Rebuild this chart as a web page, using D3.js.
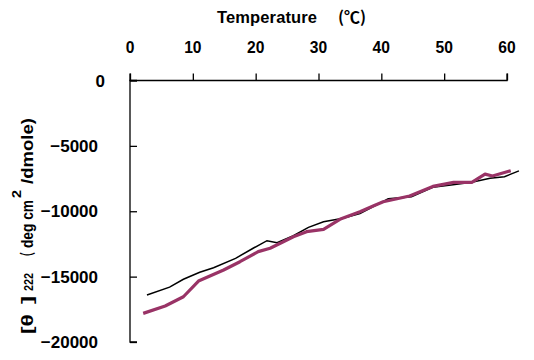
<!DOCTYPE html>
<html><head><meta charset="utf-8">
<script src="https://cdn.jsdelivr.net/npm/d3@7"></script>
<style>
html,body{margin:0;padding:0;background:#fff;}
text{font-family:"Liberation Sans",Arial,sans-serif;font-weight:bold;fill:#000;}
</style></head>
<body><svg id="c" width="534" height="360"></svg>
<script>
const xTicks = [0,10,20,30,40,50,60];
const yTicks = [0,-5000,-10000,-15000,-20000];
const blackT = [2.7,6.3,8.5,11.1,13.3,16.8,19.6,21.8,23.4,26.0,28.4,30.8,33.9,36.6,41.1,44.8,48.2,51.4,54.4,57.3,59.6,61.9];
const blackV = [-16400,-15800,-15200,-14670,-14320,-13600,-12830,-12250,-12400,-11870,-11230,-10800,-10540,-10180,-9050,-8890,-8170,-7980,-7790,-7480,-7360,-6910];
const pinkT = [2.1,5.6,8.5,10.9,14.9,17.5,20.4,22.3,24.4,26.0,28.1,30.8,33.4,36.6,38.7,40.3,44.5,48.2,51.5,54.4,56.5,57.7,60.6];
const pinkV = [-17810,-17250,-16540,-15340,-14490,-13860,-13090,-12830,-12330,-11950,-11560,-11380,-10620,-10040,-9600,-9270,-8830,-8100,-7790,-7790,-7160,-7300,-6900];

const svg = d3.select("#c");
const x = d3.scaleLinear().domain([0,60]).range([130,507]);
const y = d3.scaleLinear().domain([0,-20000]).range([80.5,342]);

// x axis at top (y=0)
const xa = svg.append("g").attr("transform",`translate(0,${y(0)})`)
  .call(d3.axisTop(x).tickValues(xTicks).tickSize(7).tickFormat(""));
xa.select(".domain").attr("stroke","#000").attr("stroke-width",1.3).attr("d",`M${x(0)},-7V0H${x(60)}V-7`);
xa.selectAll(".tick line").attr("stroke","#000").attr("stroke-width",1.3);
svg.append("g").selectAll("text").data(xTicks).join("text")
  .attr("x",d=>x(d)).attr("y",53).attr("text-anchor","middle").attr("font-size",17)
  .attr("transform",d=>`translate(${x(d)},0) scale(0.92,1) translate(${-x(d)},0)`)
  .text(d=>d3.format("d")(d));

// y axis
const ya = svg.append("g").attr("transform",`translate(${x(0)},0)`)
  .call(d3.axisRight(y).tickValues(yTicks).tickSize(7).tickFormat(""));
ya.select(".domain").attr("stroke","#000").attr("stroke-width",1.3).attr("d",`M7,${y(0)}H0V${y(-20000)}H7`);
ya.selectAll(".tick line").attr("stroke","#000").attr("stroke-width",1.3);
svg.append("g").selectAll("text").data(yTicks).join("text")
  .attr("x",d=>d===0?105:98).attr("y",d=>y(d)).attr("dy","0.36em").attr("text-anchor","end")
  .attr("font-size",17).text(d=>d===0?"0":String(d).replace("-","\u2212"));

// lines
const line = d3.line().x(d=>x(d[0])).y(d=>y(d[1]));
svg.append("path").datum(blackT.map((t,i)=>[t,blackV[i]]))
  .attr("d",line).attr("fill","none").attr("stroke","#000").attr("stroke-width",1.5);
svg.append("path").datum(pinkT.map((t,i)=>[t,pinkV[i]]))
  .attr("d",line).attr("fill","none").attr("stroke","#993366").attr("stroke-width",3.2).attr("stroke-linejoin","round");

// x title
svg.append("text").attr("x",217).attr("y",23).attr("font-size",16.5).attr("textLength",100).text("Temperature");
svg.append("text").attr("x",338).attr("y",23).attr("font-size",16)
  .style("font-family","'Noto Sans CJK JP',sans-serif").text("(℃)");

// y title (rotated; x' = -screenY)
const yt = svg.append("g").attr("transform","translate(33,0) rotate(-90)");
const part = (txt, start, len, size, dy) => yt.append("text").attr("x",-start).attr("y",dy)
  .attr("font-size",size).attr("textLength",len).attr("lengthAdjust","spacingAndGlyphs").text(txt);
part("[θ", 334, 20, 16, 0);
part("]", 304, 8, 16, 0);
part("222", 291, 18, 12, 0);
part("（", 262, 10, 16, 0).style("font-family","'Noto Sans CJK JP',sans-serif");
part("deg cm", 248, 48, 16, 0);
part("2", 198, 8, 12, -12);
part("/dmole)", 184, 66, 16, 0);
</script></body></html>
